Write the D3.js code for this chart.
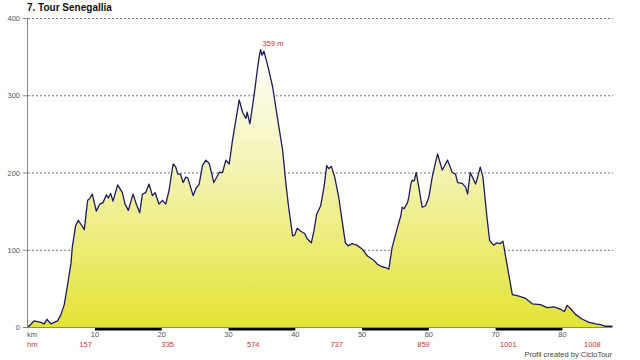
<!DOCTYPE html>
<html><head><meta charset="utf-8">
<script src="https://cdn.jsdelivr.net/npm/d3@7"></script>
<style>body{margin:0;background:#fff}svg{display:block;font-family:"Liberation Sans",Arial,sans-serif}</style>
</head><body><svg id="c" width="640" height="360"></svg>
<script>
const title = "7. Tour Senegallia";
const kmValues = [0.0,0.1,0.9,1.9,2.4,2.8,3.4,4.4,4.9,5.4,5.9,6.4,6.6,7.1,7.5,7.9,8.4,8.9,9.2,9.6,10.2,10.7,11.2,11.7,12.0,12.35,12.7,13.4,14.1,14.5,15.0,15.7,16.2,16.7,17.1,17.6,18.1,18.6,19.0,19.6,20.1,20.6,21.1,21.7,22.1,22.4,22.8,23.2,23.6,23.9,24.7,25.1,25.6,26.1,26.6,27.1,27.8,28.6,29.1,29.6,30.1,30.6,31.1,31.6,32.1,32.6,32.8,33.2,33.8,34.3,34.6,34.8,35.0,35.3,35.8,36.6,37.3,38.1,38.6,39.0,39.6,39.9,40.3,40.8,41.4,41.8,42.4,42.8,43.2,43.8,44.3,44.7,45.0,45.4,45.9,46.5,47.0,47.5,47.9,48.5,49.2,50.0,50.8,51.8,52.3,53.0,53.5,54.0,54.5,54.9,55.3,55.8,56.0,56.3,56.8,57.0,57.3,57.5,57.8,58.1,58.5,59.0,59.5,60.0,60.5,61.3,62.0,62.8,63.5,64.0,64.3,65.0,65.5,65.8,66.2,67.0,67.3,67.7,68.1,68.7,69.1,69.7,70.2,70.7,71.1,71.7,72.5,73.5,74.5,75.5,76.7,77.7,78.7,79.7,80.3,80.7,81.2,82.0,83.0,84.0,85.0,85.7,86.4,87.2,87.5];
const elevation = [2,1,8,6,4,10,4,8,16,29,55,82,103,131,138,133,126,164,166,172,150,159,161,171,167,173,163,184,174,159,151,172,159,148,172,174,185,170,174,159,164,159,177,211,207,198,198,187,194,193,170,179,185,209,216,212,187,200,200,216,211,242,268,294,278,270,278,263,298,332,350,359,352,357,341,311,272,229,185,155,118,119,128,124,121,114,109,125,146,157,181,209,205,208,194,168,138,109,105,108,106,101,92,86,81,78,77,75,103,116,129,144,155,153,161,168,185,190,189,200,181,155,157,168,194,224,203,216,200,198,187,186,181,172,200,185,194,207,194,142,112,106,109,108,111,81,42,40,37,30,29,25,26,23,20,28,24,16,10,6,4,3,1,1,1];
const yTicks = [0,100,200,300,400];
const kmTicks = [10,20,30,40,50,60,70,80];
const barRanges = [[10,20],[30,40],[50,60],[70,80]];
const hmLabels = ["157","335","574","737","859","1001","1008"];
const hmKm = [8.6,20.9,33.7,46.2,59.2,71.9,84.5];
const peakLabel = "359 m";
const peakValue = 359;
const peakKm = 34.8;
const credit = "Profil created by CicloTour";

const svg = d3.select("#c");
const x = d3.scaleLinear().domain([0, 87.5]).range([28.2, 612.5]);
const y = d3.scaleLinear().domain([0, 400]).range([327, 18]);
const data = kmValues.map((k,i)=>({k, e: elevation[i]}));

const defs = svg.append("defs");
const grad = defs.append("linearGradient").attr("id","g")
  .attr("gradientUnits","userSpaceOnUse").attr("x1",0).attr("x2",0)
  .attr("y1", y(360)).attr("y2", y(0));
grad.append("stop").attr("offset","0").attr("stop-color","#ffffff");
grad.append("stop").attr("offset","0.45").attr("stop-color","#f3f3b0");
grad.append("stop").attr("offset","1").attr("stop-color","#e3e335");

// grid
svg.append("g").selectAll("line").data(yTicks.filter(d=>d>0)).join("line")
  .attr("x1", 28).attr("x2", 613).attr("y1", d=>y(d)+0.5).attr("y2", d=>y(d)+0.5)
  .attr("stroke","#777").attr("stroke-width",1).attr("stroke-dasharray","2,2");

// area
svg.append("path").datum(data)
  .attr("d", d3.area().x(d=>x(d.k)).y0(y(0)).y1(d=>y(d.e)))
  .attr("fill","url(#g)");
svg.append("path").datum(data)
  .attr("d", d3.line().x(d=>x(d.k)).y(d=>y(d.e)))
  .attr("fill","none").attr("stroke","#1c1c5e").attr("stroke-width",1.3).attr("stroke-linejoin","round");

// axes lines
svg.append("line").attr("x1",27.5).attr("x2",27.5).attr("y1",y(400)).attr("y2",y(0)+1).attr("stroke","#888");
svg.append("line").attr("x1",27).attr("x2",x(87.5)).attr("y1",y(0)+0.5).attr("y2",y(0)+0.5).attr("stroke","#888");

// black bars
svg.append("g").selectAll("rect").data(barRanges).join("rect")
  .attr("x", d=>x(d[0])).attr("width", d=>x(d[1])-x(d[0]))
  .attr("y", y(0)+1).attr("height", 2.5).attr("fill","#000");

// y ticks
const yg = svg.append("g");
yg.selectAll("line").data(yTicks).join("line")
  .attr("x1",23).attr("x2",27).attr("y1",d=>y(d)+0.5).attr("y2",d=>y(d)+0.5).attr("stroke","#888");
yg.selectAll("text").data(yTicks).join("text")
  .attr("x",20).attr("y",d=>y(d)+3).attr("text-anchor","end")
  .attr("font-size",7.5).attr("fill","#555").text(d=>d);

// x ticks
svg.append("text").attr("x",27).attr("y",337).attr("font-size",7.5).attr("fill","#555").text("km");
svg.append("g").selectAll("text").data(kmTicks).join("text")
  .attr("x",d=>x(d)).attr("y",337).attr("text-anchor","middle")
  .attr("font-size",7.5).attr("fill","#555").text(d=>d);
svg.append("text").attr("x",27).attr("y",347).attr("font-size",7.5).attr("fill","#cc3333").text("hm");
svg.append("g").selectAll("text").data(hmLabels).join("text")
  .attr("x",(d,i)=>x(hmKm[i])).attr("y",347).attr("text-anchor","middle")
  .attr("font-size",7.5).attr("fill","#cc3333").text(d=>d);

// peak label
svg.append("text").attr("x", x(peakKm)+2).attr("y", y(peakValue)-4)
  .attr("font-size",7.5).attr("fill","#cc3333").text(peakLabel);

// title
svg.append("text").attr("x",27).attr("y",11).attr("font-size",10).attr("font-weight","bold").attr("fill","#111").text(title);

// credit
svg.append("text").attr("x",612).attr("y",357).attr("text-anchor","end")
  .attr("font-size",7.5).attr("fill","#444").text(credit);
</script></body></html>
